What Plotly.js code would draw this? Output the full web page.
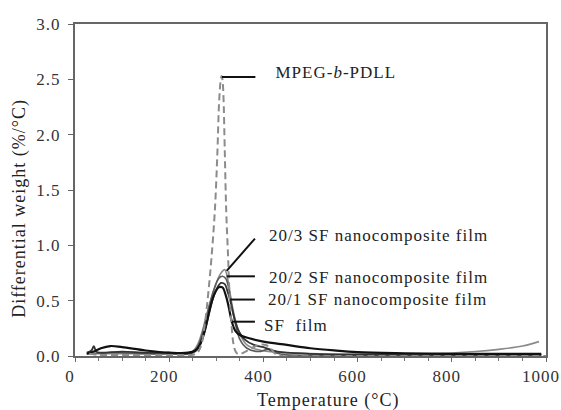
<!DOCTYPE html>
<html>
<head>
<meta charset="utf-8">
<script src="https://cdn.plot.ly/plotly-3.0.1.min.js"></script>
<style>
html,body{margin:0;padding:0;background:#fff;}
#chart{width:561px;height:410px;}
.main-svg text{letter-spacing:1px;}
</style>
</head>
<body>
<div id="chart"></div>
<script>
// Temperature (°C) and differential weight (%/°C)
const mpegT = [30, 50, 100, 150, 200, 240, 250, 260, 268, 276, 283, 290, 297, 302, 306, 309, 311, 313, 315, 318, 321, 325, 328, 332, 336, 340, 345, 352, 362, 375, 390, 405, 415, 425, 440, 500, 600, 700, 800, 900, 1000];
const mpegY = [0.02, 0.01, 0.01, 0.01, 0.01, 0.01, 0.01, 0.03, 0.1, 0.3, 0.57, 0.9, 1.32, 1.8, 2.3, 2.48, 2.53, 2.5, 2.37, 1.85, 1.32, 0.9, 0.57, 0.3, 0.12, 0.05, 0.02, 0.02, 0.04, 0.07, 0.1, 0.1, 0.07, 0.02, 0.0, 0.0, 0.0, 0.0, 0.0, 0.0, 0.0];

const sfT = [25, 40, 55, 75, 100, 150, 200, 240, 255, 265, 275, 285, 295, 305, 313, 320, 326, 333, 340, 350, 370, 400, 450, 500, 550, 600, 700, 800, 900, 990];
const sfY = [0.02, 0.04, 0.07, 0.09, 0.08, 0.05, 0.03, 0.03, 0.05, 0.1, 0.22, 0.4, 0.55, 0.62, 0.62, 0.55, 0.45, 0.31, 0.23, 0.19, 0.16, 0.13, 0.1, 0.07, 0.05, 0.035, 0.025, 0.02, 0.02, 0.02];

const c1T = [25, 35, 40, 45, 55, 100, 150, 200, 250, 260, 270, 280, 290, 300, 310, 318, 324, 329, 335, 345, 360, 380, 400, 430, 500, 600, 700, 800, 900, 990];
const c1Y = [0.03, 0.05, 0.09, 0.04, 0.03, 0.04, 0.03, 0.03, 0.03, 0.06, 0.15, 0.3, 0.48, 0.6, 0.66, 0.65, 0.58, 0.51, 0.4, 0.25, 0.15, 0.1, 0.08, 0.04, 0.02, 0.01, 0.01, 0.01, 0.01, 0.01];

const c2T = [25, 60, 100, 150, 200, 245, 255, 265, 275, 285, 295, 305, 313, 320, 327, 333, 340, 350, 365, 390, 410, 425, 450, 550, 700, 850, 990];
const c2Y = [0.02, 0.03, 0.03, 0.02, 0.02, 0.02, 0.05, 0.13, 0.28, 0.45, 0.6, 0.7, 0.72, 0.7, 0.6, 0.45, 0.3, 0.15, 0.07, 0.04, 0.06, 0.03, 0.01, 0.01, 0.01, 0.01, 0.01];

const c3T = [25, 60, 100, 150, 200, 240, 250, 260, 270, 280, 290, 300, 310, 318, 323, 328, 334, 342, 352, 365, 385, 410, 450, 550, 650, 750, 850, 900, 950, 985];
const c3Y = [0.02, 0.02, 0.02, 0.02, 0.02, 0.02, 0.04, 0.1, 0.22, 0.38, 0.53, 0.66, 0.75, 0.78, 0.72, 0.6, 0.45, 0.3, 0.18, 0.1, 0.06, 0.04, 0.03, 0.02, 0.02, 0.02, 0.04, 0.06, 0.09, 0.13];

const xTicks = [0, 200, 400, 600, 800, 1000];
const yTicks = [0.0, 0.5, 1.0, 1.5, 2.0, 2.5, 3.0];
const yTickText = ["0.0", "0.5", "1.0", "1.5", "2.0", "2.5", "3.0"];

const labels = ["MPEG-<i>b</i>-PDLL", "20/3 SF nanocomposite film", "20/2 SF nanocomposite film", "20/1 SF nanocomposite film", "SF  film"];

const serif = "Liberation Serif, Times New Roman, serif";

const traces = [
  {x: c3T, y: c3Y, mode: 'lines', line: {color: '#8a8a8a', width: 1.6, shape: 'spline'}, name: labels[1]},
  {x: c2T, y: c2Y, mode: 'lines', line: {color: '#5a5a5a', width: 1.6, shape: 'spline'}, name: labels[2]},
  {x: c1T, y: c1Y, mode: 'lines', line: {color: '#333333', width: 1.8, shape: 'spline'}, name: labels[3]},
  {x: sfT, y: sfY, mode: 'lines', line: {color: '#111111', width: 2.2, shape: 'spline'}, name: labels[4]},
  {x: mpegT, y: mpegY, mode: 'lines', line: {color: '#8c8c8c', width: 2, dash: '7px,4px', shape: 'spline'}, name: labels[0]}
];

const lineStyle = {color: '#111', width: 2};
const shapes = [
  {type: 'line', xref: 'x', yref: 'y', x0: 312, y0: 2.52, x1: 383, y1: 2.52, line: lineStyle},
  {type: 'line', xref: 'x', yref: 'y', x0: 322, y0: 0.77, x1: 382, y1: 1.06, line: lineStyle},
  {type: 'line', xref: 'x', yref: 'y', x0: 322, y0: 0.72, x1: 382, y1: 0.72, line: lineStyle},
  {type: 'line', xref: 'x', yref: 'y', x0: 329, y0: 0.51, x1: 382, y1: 0.51, line: lineStyle},
  {type: 'line', xref: 'x', yref: 'y', x0: 333, y0: 0.31, x1: 382, y1: 0.31, line: lineStyle}
];

const lblX = [422, 407, 407, 405, 397];
const lblY = [2.56, 1.09, 0.71, 0.51, 0.28];
const annFont = {family: serif, size: 17, color: '#222'};
const annotations = labels.map((t, i) => ({
  text: t, x: lblX[i], y: lblY[i], xref: 'x', yref: 'y',
  xanchor: 'left', yanchor: 'middle', showarrow: false, font: annFont,
  xshift: t.replace(/<[^>]+>/g, '').length * 0.5
}));
annotations.push({
  text: 'Temperature (°C)', xref: 'paper', yref: 'paper', x: 0.537, y: -0.133,
  xanchor: 'center', yanchor: 'middle', showarrow: false,
  font: {family: serif, size: 18, color: '#222'}
});
annotations.push({
  text: 'Differential weight (%/°C)', xref: 'paper', yref: 'paper', x: -0.117, y: 0.446,
  xanchor: 'center', yanchor: 'middle', showarrow: false, textangle: -90,
  font: {family: serif, size: 18, color: '#222'}
});

const layout = {
  width: 561, height: 410,
  margin: {l: 75, r: 15, t: 24, b: 54},
  paper_bgcolor: '#fff', plot_bgcolor: '#fff',
  showlegend: false,
  xaxis: {
    range: [0, 1000], tickvals: xTicks, ticktext: xTicks.map(String),
    showgrid: false, zeroline: false, showline: true, mirror: true,
    linecolor: '#666', linewidth: 2, ticks: 'outside', ticklen: 4, tickcolor: '#666',
    ticklabeloverflow: 'allow', ticklabelshift: -5,
    tickfont: {family: serif, size: 17, color: '#333'},
    minor: {dtick: 50, ticks: 'outside', ticklen: 3, tickcolor: '#777', showgrid: false}
  },
  yaxis: {
    range: [0, 3], tickvals: yTicks, ticktext: yTickText,
    showgrid: false, zeroline: false, showline: true, mirror: true,
    linecolor: '#666', linewidth: 2, ticks: 'outside', ticklen: 5, tickcolor: '#666',
    ticklabelstandoff: 4,
    tickfont: {family: serif, size: 17, color: '#333'}
  },
  shapes: shapes,
  annotations: annotations
};

Plotly.newPlot('chart', traces, layout, {displayModeBar: false, staticPlot: true});
</script>
</body>
</html>
